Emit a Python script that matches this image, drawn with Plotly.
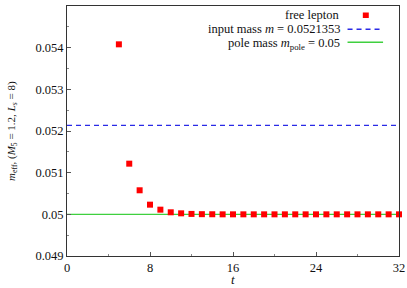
import plotly.graph_objects as go

t_vals = [5, 6, 7, 8, 9, 10, 11, 12, 13, 14, 15, 16, 17, 18, 19, 20, 21, 22, 23, 24,
          25, 26, 27, 28, 29, 30, 31, 32]
m_eff = [0.05408, 0.051216, 0.050577, 0.050232, 0.050112, 0.050049, 0.050024, 0.050010,
         0.050004, 0.050002, 0.05, 0.05, 0.05, 0.05, 0.05, 0.05, 0.05, 0.05, 0.05, 0.05,
         0.05, 0.05, 0.05, 0.05, 0.05, 0.05, 0.05, 0.05]
input_mass = 0.0521353
pole_mass = 0.05
x_range = [0, 32]
y_range = [0.049, 0.055]
x_ticks = [0, 8, 16, 24, 32]
y_ticks = [0.049, 0.05, 0.051, 0.052, 0.053, 0.054, 0.055]
y_tick_labels = ["0.049", "0.05", "0.051", "0.052", "0.053", "0.054", "0.055"]

FONT = "Liberation Serif"
fig = go.Figure()

fig.add_trace(go.Scatter(x=x_range, y=[input_mass, input_mass], mode="lines",
                         line=dict(color="#2a2ae6", width=1.3, dash="5px,4px"),
                         showlegend=False, hoverinfo="skip"))
fig.add_trace(go.Scatter(x=x_range, y=[pole_mass, pole_mass], mode="lines",
                         line=dict(color="#3fd03f", width=1.3),
                         showlegend=False, hoverinfo="skip"))
fig.add_trace(go.Scatter(x=t_vals, y=m_eff, mode="markers",
                         marker=dict(symbol="square", size=6, color="#ff0000"),
                         showlegend=False, cliponaxis=False))

# custom legend (text right-aligned, key to the right)
leg_items = [
    ("free lepton", 0.963),
    ("input mass <i>m</i> = 0.0521353", 0.909),
    ("pole mass <i>m</i><sub>pole</sub> = 0.05", 0.848),
]
for txt, yy in leg_items:
    fig.add_annotation(xref="paper", yref="paper", x=0.828, y=yy, text=txt,
                       showarrow=False, xanchor="right", yanchor="middle",
                       font=dict(family=FONT, size=12.5, color="#111"))
fig.add_shape(type="rect", xref="paper", yref="paper",
              x0=0.891, x1=0.909, y0=0.963 - 0.011, y1=0.963 + 0.011,
              fillcolor="#ff0000", line=dict(width=0))
fig.add_shape(type="line", xref="paper", yref="paper",
              x0=0.845, x1=0.945, y0=0.907, y1=0.907,
              line=dict(color="#2a2ae6", width=1.3, dash="5px,4px"))
fig.add_shape(type="line", xref="paper", yref="paper",
              x0=0.845, x1=0.952, y0=0.855, y1=0.855,
              line=dict(color="#3fd03f", width=1.3))

# axis titles as annotations for exact placement
fig.add_annotation(xref="paper", yref="paper", x=-0.166, y=0.5, textangle=-90,
                   text="<i>m</i><sub>eff</sub>, (<i>M</i><sub>5</sub> = 1.2, <i>L<sub>s</sub></i> = 8)",
                   showarrow=False, xanchor="center", yanchor="middle",
                   font=dict(family=FONT, size=11, color="#111"))
fig.add_annotation(xref="paper", yref="paper", x=0.5, y=-0.094, text="<i>t</i>",
                   showarrow=False, xanchor="center", yanchor="middle",
                   font=dict(family=FONT, size=13, color="#111"))

axis_common = dict(showgrid=False, zeroline=False, showline=True, mirror=True,
                   linecolor="#333", linewidth=1, ticks="inside", ticklen=4,
                   tickcolor="#555", tickfont=dict(family=FONT, size=12.5, color="#111"),
                   automargin=False,
                   minor=dict(ticks="inside", ticklen=2, tickcolor="#888"))

fig.update_xaxes(range=x_range, tickvals=x_ticks,
                 minor_tickvals=[4, 12, 20, 28], **axis_common)
fig.update_yaxes(range=y_range, tickvals=y_ticks, ticktext=y_tick_labels,
                 minor_tickvals=[0.0495, 0.0505, 0.0515, 0.0525, 0.0535, 0.0545],
                 **axis_common)

fig.update_layout(width=407, height=288, margin=dict(l=67, r=8, t=6, b=32),
                  paper_bgcolor="white", plot_bgcolor="white",
                  font=dict(family=FONT, size=13, color="#111"))

fig.write_html("out.html", config={"displayModeBar": False},
               post_script="document.body.style.margin='0';")
